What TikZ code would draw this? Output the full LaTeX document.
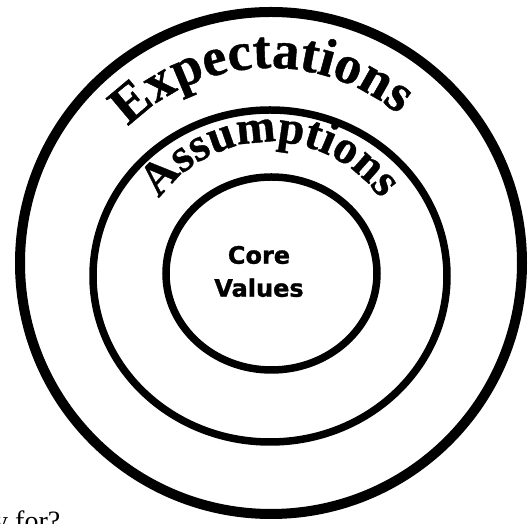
\documentclass[tikz,border=0pt]{standalone}
\usepackage{fontspec}
\setmainfont{Liberation Serif}
\newfontfamily\ringserif{Liberation Serif Bold}[FakeBold=0.8]
\newfontfamily\coresans{DejaVu Sans Bold}[FakeBold=1.2]
\usetikzlibrary{decorations.text}
\newcommand\expfont{\ringserif\fontsize{54}{58}\selectfont}
\newcommand\asmfont{\ringserif\fontsize{47}{50}\selectfont}

\begin{document}
\begin{tikzpicture}[x=1pt,y=1pt,
  ring/.style={draw=black,line width=#1},
  arctext/.style={decorate,decoration={text along path,text align=center,text={#1}}}]
  \useasboundingbox (0,0) rectangle (531,524);
  \draw[ring=10] (271,261) circle (251);
  \draw[ring=7.5] (270,248) ellipse (177 and 166);
  \draw[ring=7.5] (271.5,250.5) ellipse (105.5 and 96.5);
  \path[arctext={|\expfont|Expectations}] (270,256) ++(160:200) arc (160:25.2:200);
  \path[arctext={|\asmfont|Assumptions}] (270,246) ++(170:136) arc (170:10:136);
  \node[font=\coresans\fontsize{24}{33}\selectfont,align=center] (core) at (259,252.5) {Core\\Values};
  \node[anchor=base west,inner sep=0pt,font=\fontsize{28}{32}\selectfont] (tail) at (-6,-7) {y for?};
\end{tikzpicture}
\end{document}
